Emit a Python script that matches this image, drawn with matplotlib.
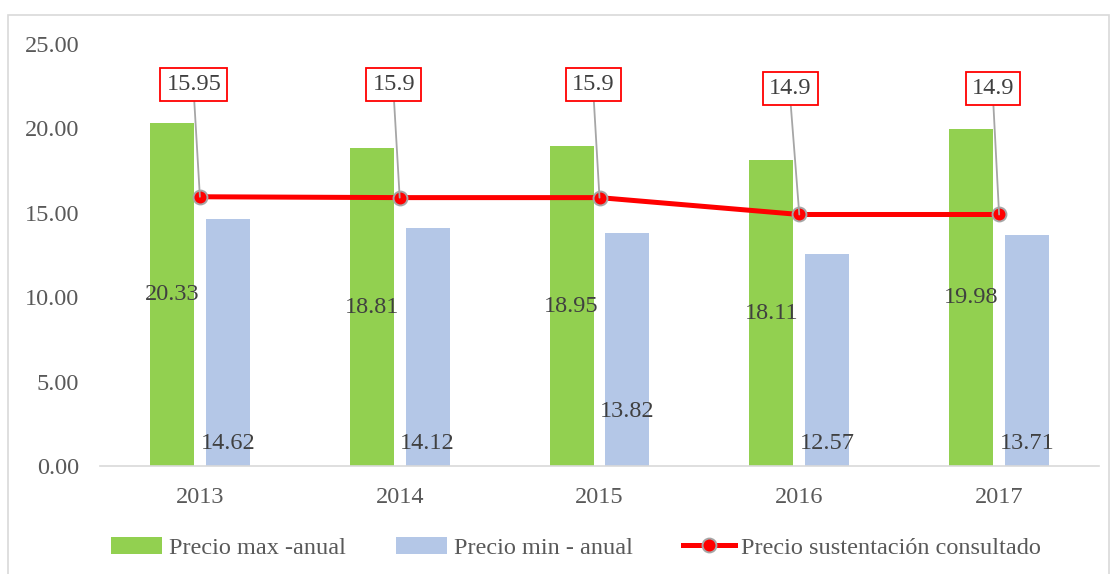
import numpy as np
import matplotlib.pyplot as plt
from matplotlib.patches import Rectangle

# datos
anios = ['2013', '2014', '2015', '2016', '2017']
precio_max = [20.33, 18.81, 18.95, 18.11, 19.98]
precio_min = [14.62, 14.12, 13.82, 12.57, 13.71]
precio_sust = [15.95, 15.9, 15.9, 14.9, 14.9]
etiquetas_sust = ['15.95', '15.9', '15.9', '14.9', '14.9']

plt.rcParams['font.family'] = ['Liberation Serif', 'DejaVu Serif']
gris_txt = '#404040'
fs = 17.5

fig = plt.figure(figsize=(11.14, 5.74), dpi=100)
ax = fig.add_axes([100 / 1114, 1 - 466 / 574, 999 / 1114, 422 / 574])

x = np.arange(len(anios))
ancho = 0.22
desp = 0.14

b1 = ax.bar(x - desp, precio_max, ancho, color='#92D050', label='Precio max -anual')
b2 = ax.bar(x + desp, precio_min, ancho, color='#B4C7E7', label='Precio min - anual')
l1, = ax.plot(x, precio_sust, color='#FF0000', lw=3.6, marker='o', markersize=10,
              markerfacecolor='#FF0000', markeredgecolor='#A6A6A6', markeredgewidth=1.4,
              label='Precio sustentación consultado', zorder=5)

# etiquetas de barras
for i in range(len(anios)):
    ax.text(x[i] - desp, precio_max[i] / 2, f'{precio_max[i]:.2f}', ha='center', va='center',
            fontsize=fs, color=gris_txt, zorder=6)

pos_min = [1.35, 1.35, 3.2, 1.35, 1.35]
for i in range(len(anios)):
    ax.text(x[i] + desp, pos_min[i], f'{precio_min[i]:.2f}', ha='center', va='center',
            fontsize=fs, color=gris_txt, zorder=6)

# llamadas del precio de sustentacion
pos_caja = [(-0.03, 22.6), (-0.03, 22.6), (-0.03, 22.6), (-0.045, 22.35), (-0.03, 22.35)]
for i in range(len(anios)):
    ax.annotate(etiquetas_sust[i], xy=(x[i], precio_sust[i]),
                xytext=(x[i] + pos_caja[i][0], pos_caja[i][1]),
                ha='center', va='center', fontsize=fs, color=gris_txt, zorder=7,
                bbox=dict(boxstyle='square,pad=0.25', fc='white', ec='#FF0000', lw=1.3),
                arrowprops=dict(arrowstyle='-', color='#A6A6A6', lw=1.3,
                                shrinkA=0, shrinkB=0, relpos=(0.5, 0)))

ax.set_xlim(-0.5, len(anios) - 0.5)
ax.set_ylim(0, 25)
ax.set_yticks(np.arange(0, 26, 5))
ax.set_yticklabels([f'{v:.2f}' for v in np.arange(0, 26, 5)])
ax.set_xticks(x)
ax.set_xticklabels(anios)
ax.tick_params(length=0, labelsize=fs, colors='#595959')
ax.tick_params(axis='x', pad=15)
ax.tick_params(axis='y', pad=15)
for s in ['top', 'right', 'left']:
    ax.spines[s].set_visible(False)
ax.spines['bottom'].set_color('#D9D9D9')
ax.spines['bottom'].set_linewidth(1.2)

fig.legend(handles=[b1, b2, l1], loc='center', bbox_to_anchor=(0.517, 0.046), ncol=3,
           frameon=False, fontsize=fs, labelcolor='#595959', handlelength=2.1,
           handletextpad=0.25, columnspacing=2.1)

fig.patches.append(Rectangle((8 / 1114, -0.05), 1101 / 1114, 1.05 - 15 / 574,
                             transform=fig.transFigure, fill=False, ec='#D9D9D9', lw=1.2))

fig.savefig('out.png', dpi=100)
